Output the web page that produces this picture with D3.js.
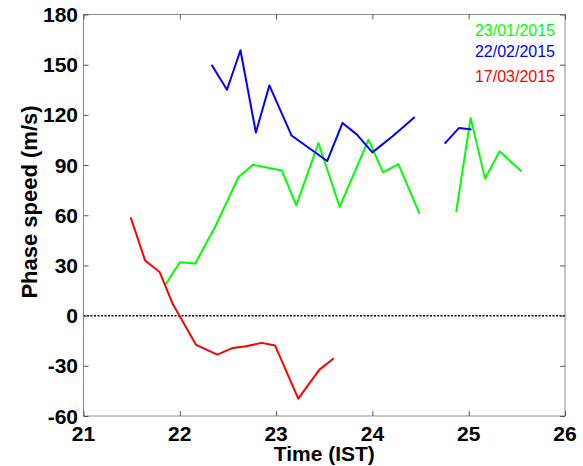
<!DOCTYPE html>
<html lang="en">
<head>
    <meta charset="UTF-8">
    <title>Phase speed vs time</title>
    <script src="https://d3js.org/d3.v7.min.js"></script>
    <style>
        body { margin: 0; background: #fff; }
        text { font-family: "Liberation Sans", Arial, sans-serif; }
        .tick-label { font-size: 21px; font-weight: bold; fill: #000; }
        .axis-title { font-size: 21px; font-weight: bold; fill: #000; }
        .legend { font-size: 16px; }
    </style>
</head>
<body>
    <svg width="583" height="466"></svg>
    <script>
        // x ticks / y ticks
        const xTicks = [21, 22, 23, 24, 25, 26];
        const yTicks = [-60, -30, 0, 30, 60, 90, 120, 150, 180];

        // 23/01/2015 (green) - two segments
        const janTime1 = [21.85, 22.0, 22.16, 22.37, 22.61, 22.76, 23.06, 23.21, 23.44, 23.66, 23.96, 24.11, 24.27, 24.49];
        const janSpeed1 = [18.5, 31.9, 31.1, 53.4, 82.9, 90.2, 86.7, 65.9, 103.2, 65.0, 105.2, 85.6, 90.6, 60.8];
        const janTime2 = [24.87, 25.02, 25.17, 25.32, 25.55];
        const janSpeed2 = [62.0, 118.2, 81.9, 98.2, 86.2];

        // 22/02/2015 (blue) - two segments
        const febTime1 = [22.33, 22.49, 22.63, 22.79, 22.93, 23.16, 23.53, 23.69, 23.84, 24.0, 24.21, 24.44];
        const febSpeed1 = [150.0, 135.0, 158.6, 109.5, 137.6, 107.7, 92.4, 115.2, 108.2, 97.6, 107.2, 118.8];
        const febTime2 = [24.75, 24.9, 25.03];
        const febSpeed2 = [102.8, 112.2, 111.2];

        // 17/03/2015 (red)
        const marTime = [21.49, 21.64, 21.79, 21.93, 22.17, 22.39, 22.55, 22.69, 22.85, 22.99, 23.23, 23.45, 23.6];
        const marSpeed = [58.7, 32.9, 26.1, 6.6, -17.5, -23.3, -19.3, -18.3, -16.3, -17.9, -49.6, -32.3, -25.5];

        const legendLabels = ["23/01/2015", "22/02/2015", "17/03/2015"];
        const colors = ["#00ff00", "#0000ff", "#ff0000"];

        const svg = d3.select("svg");
        const plotLeft = 83.5, plotRight = 565, plotTop = 14.5, plotBottom = 416;

        const x = d3.scaleLinear().domain([21, 26]).range([plotLeft, plotRight]);
        const y = d3.scaleLinear().domain([-60, 180]).range([plotBottom, plotTop]);

        const zip = (t, v) => t.map((d, i) => [d, v[i]]);
        const series = [
            { color: colors[0], pts: zip(janTime1, janSpeed1) },
            { color: colors[0], pts: zip(janTime2, janSpeed2) },
            { color: colors[1], pts: zip(febTime1, febSpeed1) },
            { color: colors[1], pts: zip(febTime2, febSpeed2) },
            { color: colors[2], pts: zip(marTime, marSpeed) }
        ];

        // zero line
        svg.append("line")
            .attr("x1", x(21)).attr("x2", x(26))
            .attr("y1", y(0)).attr("y2", y(0))
            .attr("stroke", "#000")
            .attr("stroke-width", 1.5)
            .attr("stroke-dasharray", "2,1.5");

        const line = d3.line().x(d => x(d[0])).y(d => y(d[1]));

        svg.append("g").selectAll("path")
            .data(series)
            .enter().append("path")
            .attr("d", d => line(d.pts))
            .attr("fill", "none")
            .attr("stroke", d => d.color)
            .attr("stroke-width", 2)
            .attr("stroke-linejoin", "round");

        // frame
        svg.append("rect")
            .attr("x", plotLeft).attr("y", plotTop)
            .attr("width", plotRight - plotLeft).attr("height", plotBottom - plotTop)
            .attr("fill", "none")
            .attr("stroke", "#8c8c8c")
            .attr("stroke-width", 1);

        // inward ticks on all four sides
        const tickLen = 5;
        const xAxisB = d3.axisBottom(x).tickValues(xTicks).tickSizeInner(-tickLen).tickSizeOuter(0).tickFormat("");
        const xAxisT = d3.axisTop(x).tickValues(xTicks).tickSizeInner(-tickLen).tickSizeOuter(0).tickFormat("");
        const yAxisL = d3.axisLeft(y).tickValues(yTicks).tickSizeInner(-tickLen).tickSizeOuter(0).tickFormat("");
        const yAxisR = d3.axisRight(y).tickValues(yTicks).tickSizeInner(-tickLen).tickSizeOuter(0).tickFormat("");

        [[xAxisB, `translate(0,${plotBottom})`], [xAxisT, `translate(0,${plotTop})`],
         [yAxisL, `translate(${plotLeft},0)`], [yAxisR, `translate(${plotRight},0)`]].forEach(([ax, tr]) => {
            const g = svg.append("g").attr("transform", tr).call(ax);
            g.select(".domain").remove();
            g.selectAll(".tick line").attr("stroke", "#555");
        });

        // tick labels
        svg.append("g").selectAll("text")
            .data(xTicks)
            .enter().append("text")
            .attr("class", "tick-label")
            .attr("x", d => x(d))
            .attr("y", 441)
            .attr("text-anchor", "middle")
            .text(d => d);

        svg.append("g").selectAll("text")
            .data(yTicks)
            .enter().append("text")
            .attr("class", "tick-label")
            .attr("x", 78)
            .attr("y", d => y(d) + 7.5)
            .attr("text-anchor", "end")
            .text(d => d);

        // axis titles
        svg.append("text")
            .attr("class", "axis-title")
            .attr("x", (plotLeft + plotRight) / 2)
            .attr("y", 461)
            .attr("text-anchor", "middle")
            .text("Time (IST)");

        svg.append("text")
            .attr("class", "axis-title")
            .style("font-size", "22px")
            .attr("transform", "translate(37,202) rotate(-90)")
            .attr("text-anchor", "middle")
            .text("Phase speed (m/s)");

        // legend text
        const legendY = [35.5, 57, 82];
        svg.append("g").selectAll("text")
            .data(legendLabels)
            .enter().append("text")
            .attr("class", "legend")
            .attr("x", 555)
            .attr("y", (d, i) => legendY[i])
            .attr("text-anchor", "end")
            .attr("fill", (d, i) => colors[i])
            .text(d => d);
    </script>
</body>
</html>
